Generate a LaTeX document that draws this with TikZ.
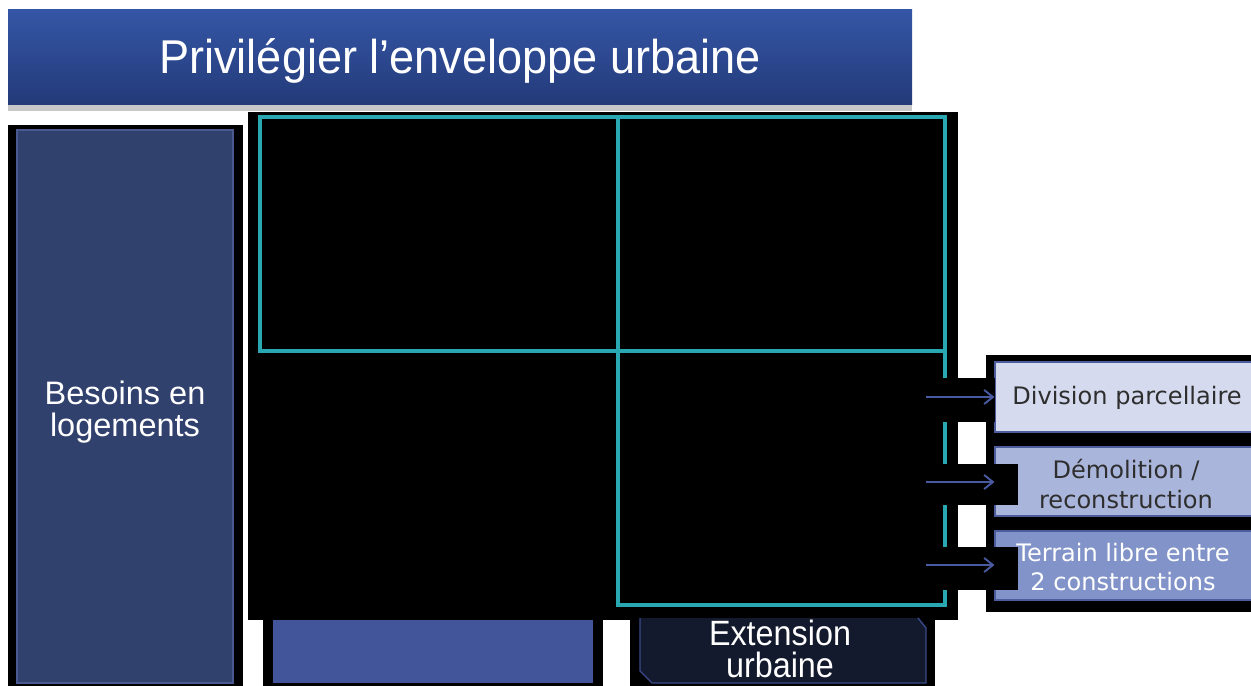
\documentclass[tikz,border=0pt]{standalone}
\usepackage{fontspec}
\setmainfont{Liberation Sans}
\newfontfamily\narrowfont[FakeStretch=0.95]{Liberation Sans}
\newfontfamily\extfont[FakeStretch=0.92]{Liberation Sans}
\newfontfamily\boxfont{DejaVu Sans}
\usetikzlibrary{arrows.meta,fit}
\definecolor{titletop}{HTML}{3556A6}
\definecolor{titlebot}{HTML}{233A78}
\definecolor{besoinsfill}{HTML}{31416E}
\definecolor{besoinsedge}{HTML}{4A5A90}
\definecolor{gridteal}{HTML}{2AA8B2}
\definecolor{divfill}{HTML}{D5DAEE}
\definecolor{demfill}{HTML}{AAB5DB}
\definecolor{terfill}{HTML}{8193C8}
\definecolor{optedge}{HTML}{4D5C9C}
\definecolor{arrowblue}{HTML}{4A5AA0}
\definecolor{lowblue}{HTML}{42559A}
\definecolor{extfill}{HTML}{131A2E}
\definecolor{extedge}{HTML}{3A4A8A}
\definecolor{optdark}{HTML}{2E2E2E}
\begin{document}
\begin{tikzpicture}[x=0.02cm,y=-0.02cm,
   titletext/.style={text=white,font=\narrowfont\fontsize{27}{32}\selectfont},
   bigtext/.style={text=white,align=center,font=\fontsize{18.5}{18}\selectfont},
   optbox/.style={draw=optedge,line width=0.6pt,inner sep=0pt},
   opttext/.style={align=center,font=\boxfont\fontsize{13.7}{17}\selectfont},
   grid/.style={draw=gridteal,line width=2.3pt},
   arr/.style={draw=arrowblue,line width=1.1pt,-{Straight Barb[length=5pt,width=8pt]}}]
   \useasboundingbox (0,0) rectangle (1251,686);
   \fill[white] (0,0) rectangle (1251,686);
   \fill[black!22] (8,104) rectangle (912,111);
   \shade[top color=titletop,bottom color=titlebot] (8,10) rectangle (912,105);
   \node[titletext] (title) at (460,61) {Privilégier l’enveloppe urbaine};
   \fill[black] (8,125) rectangle (243,686);
   \node[fit={(17,130) (233,683)},inner sep=0pt,fill=besoinsfill,draw=besoinsedge,line width=0.6pt] (besoinsbox) {};
   \node[bigtext] (besoins) at (125,412) {Besoins en\\logements};
   \fill[black] (248,112) rectangle (958,620);
   \draw[grid] (260,117) rectangle (945,351);
   \draw[grid] (618,117) -- (618,605) -- (945,605) -- (945,351);
   \fill[black] (986,355) rectangle (1251,612);
   \node[optbox,fill=divfill,fit={(995,362) (1253,432)}] (division) {};
   \node[optbox,fill=demfill,fit={(995,447) (1253,516)}] (demolition) {};
   \node[optbox,fill=terfill,fit={(995,531) (1253,600)}] (terrain) {};
   \fill[black] (935,378) rectangle (995,422);
   \fill[black] (935,464) rectangle (1018,505);
   \fill[black] (935,547) rectangle (1018,590);
   \node[opttext,text=optdark] (divtext) at (1127,398) {Division parcellaire};
   \node[opttext,text=optdark] (demtext) at (1126,484) {Démolition /\\reconstruction};
   \node[opttext,text=white] (tertext) at (1123,567) {Terrain libre entre\\2 constructions};
   \coordinate (a1) at (926,397);
   \coordinate (a2) at (926,482);
   \coordinate (a3) at (926,565);
   \draw[arr] (a1) -- (division.west);
   \draw[arr] (a2) -- (a2 -| demolition.west);
   \draw[arr] (a3) -- (a3 -| terrain.west);
   \fill[black] (263,620) rectangle (603,686);
   \node[fit={(273,620) (593,683)},inner sep=0pt,fill=lowblue] (renouvellement) {};
   \fill[black] (630,620) rectangle (935,686);
   \filldraw[fill=extfill,draw=extedge,line width=0.8pt] (640,618) -- (640,671) -- (652,683) -- (926,683) -- (926,628) -- (918,618);
   \node[text=white,align=center,font=\extfont\fontsize{20}{18.5}\selectfont] (extension) at (780,649) {Extension\\urbaine};
 \end{tikzpicture}
\end{document}
